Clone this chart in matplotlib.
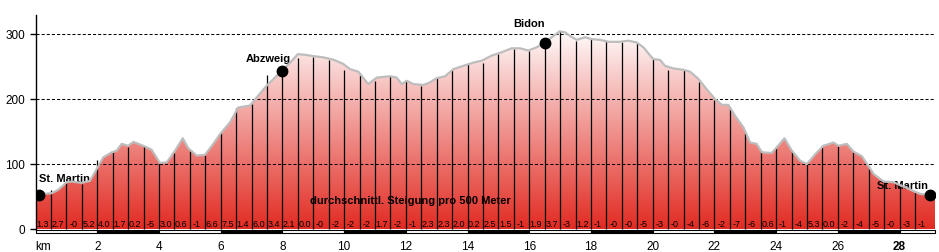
import matplotlib.pyplot as plt
import numpy as np
from matplotlib.colors import LinearSegmentedColormap
from matplotlib.patches import Rectangle

plt.rcParams['font.family'] = ['Liberation Sans', 'DejaVu Sans']
plt.rcParams['lines.scale_dashes'] = False

# elevation profile (km, m)
dist = [0.0, 0.25, 0.52, 0.74, 1.01, 1.17, 1.49, 1.76, 1.98, 2.19, 2.47, 2.63, 2.79,
        3.00, 3.17, 3.49, 3.76, 4.03, 4.25, 4.52, 4.77, 4.95, 5.22, 5.49, 5.76, 5.98,
        6.30, 6.57, 6.95, 7.17, 7.49, 7.82, 8.03, 8.25, 8.50, 8.73, 9.00, 9.33, 9.65,
        9.97, 10.19, 10.46, 10.78, 11.06, 11.49, 11.70, 11.87, 12.03, 12.24, 12.57,
        12.78, 13.00, 13.27, 13.54, 13.86, 14.19, 14.46, 14.78, 15.11, 15.43, 15.70,
        15.97, 16.24, 16.51, 16.73, 16.98, 17.16, 17.32, 17.54, 17.81, 18.03, 18.30,
        18.56, 18.94, 19.21, 19.48, 19.70, 19.92, 20.02, 20.24, 20.40, 20.67, 20.99,
        21.21, 21.48, 21.75, 22.02, 22.24, 22.45, 22.67, 22.94, 23.16, 23.37, 23.54,
        23.86, 24.02, 24.27, 24.51, 24.78, 25.00, 25.27, 25.53, 25.86, 26.02, 26.29,
        26.51, 26.78, 26.99, 27.16, 27.48, 27.80, 28.26, 28.51, 28.67, 29.01, 29.15]
elev = [52, 54, 55, 60.5, 72, 73, 71, 74, 92, 110, 118, 120.5, 131,
        128, 134, 128, 122, 101.5, 102.6, 120.5, 139.5, 124, 113, 114, 131, 146,
        164, 187, 190, 202.6, 220.5, 236, 246, 256, 269, 268, 266, 264, 260.5,
        254, 246, 242, 223, 233, 235, 233, 223, 228, 223, 221.5,
        225.6, 232, 235, 246, 251, 256, 259, 266.7, 272, 278, 278,
        274.6, 279.5, 287, 295, 304, 302.6, 297, 291, 295, 292, 291,
        288, 288, 289.7, 287, 279.5, 266.7, 261.5, 260, 251, 247, 245,
        242, 231, 215, 200, 191, 191, 174, 156.5, 133, 131, 118,
        117, 125.6, 139.5, 120.5, 105, 100, 115, 128, 133, 128, 131,
        119, 112, 97, 84.6, 73, 72, 62.6, 57, 54, 52, 52]

# 500 m markers: top of each vertical line
marker_tops = [60, 72.8, 70, 106, 119, 126.6, 128, 101, 117, 120.5, 114, 147,
               185.6, 191.8, 237, 243.6, 262.6, 264, 260, 245, 237, 228, 236, 228,
               220.5, 232, 245, 254, 256, 270, 277, 274.6, 284.6, 304, 289.7, 293,
               289.7, 288, 288, 261.5, 245, 244.6, 226.6, 199, 187, 149.7, 121.5,
               125.7, 120.5, 100, 126.6, 128, 119, 97.4, 72.8, 66.6, 57.4]

# average gradient per 500 m
grades = ['1.3', '2.7', '-0', '5.2', '4.0', '1.7', '0.2', '-5', '3.0', '0.6', '-1',
          '6.6', '7.5', '1.4', '6.0', '3.4', '2.1', '0.0', '-0', '-2', '-2', '-2',
          '1.7', '-2', '-1', '2.3', '2.3', '2.0', '0.2', '2.5', '1.5', '-1', '1.9',
          '3.7', '-3', '1.2', '-1', '-0', '-0', '-5', '-3', '-0', '-4', '-6', '-2',
          '-7', '-6', '0.6', '-1', '-4', '5.3', '0.0', '-2', '-4', '-5', '-0', '-3',
          '-1']

places = ['St. Martin', 'Abzweig', 'Bidon', 'St. Martin']
place_km = [0.11, 8.0, 16.5, 29.0]
place_elev = [52, 243.6, 285.7, 52]

total_km = 29.15

fig = plt.figure(figsize=(9.39, 2.53), dpi=100)
ax = fig.add_axes([35.6 / 939, 18.45 / 253, (935 - 35.6) / 939, 218.4 / 253])
ax.set_xlim(0, total_km)
ax.set_ylim(-7, 329)

# gradient fill under the profile
cmap = LinearSegmentedColormap.from_list('elev', ['#e12b22', '#ffffff'])
grad = np.linspace(0, 1, 256).reshape(-1, 1)
im = ax.imshow(grad, extent=[0, total_km, 0, 310], origin='lower', aspect='auto',
               cmap=cmap, zorder=1)
poly = ax.fill_between(dist, 0, elev, color='none', lw=0)
im.set_clip_path(poly.get_paths()[0], transform=ax.transData)

for lvl in [100, 200, 300]:
    ax.axhline(lvl, color='black', lw=0.75, linestyle=(0, (2.2, 1.5)), zorder=2)

marker_km = np.arange(1, len(marker_tops) + 1) * 0.5
ax.vlines(marker_km, 0, marker_tops, color='black', lw=0.9, zorder=3)
ax.plot(dist, elev, color='#bdbdbd', lw=1.6, zorder=4, solid_joinstyle='round')

ax.plot(place_km, place_elev, 'o', color='black', ms=7.5, zorder=5)
ax.text(place_km[0], 74, places[0], fontsize=8, fontweight='bold', ha='left')
ax.text(7.55, 258.5, places[1], fontsize=8, fontweight='bold', ha='center')
ax.text(15.98, 311.8, places[2], fontsize=8, fontweight='bold', ha='center')
ax.text(28.93, 63, places[3], fontsize=8, fontweight='bold', ha='right')
ax.text(8.9, 40, 'durchschnittl. Steigung pro 500 Meter', fontsize=8,
        fontweight='bold', ha='left', zorder=6)

for i, g in enumerate(grades):
    ax.text((i + 0.5) * 0.5 - 0.03, 5, g, fontsize=6.5, ha='center', zorder=6)

# km scale bar
for k in range(int(np.ceil(total_km / 2))):
    x0 = 2 * k
    w = min(2, total_km - x0)
    ax.add_patch(Rectangle((x0, -6.5), w, 5.5, facecolor='black' if k % 2 else 'white',
                           edgecolor='black', lw=0.8, zorder=6, clip_on=False))

for side in ['top', 'right', 'bottom']:
    ax.spines[side].set_visible(False)
ax.spines['left'].set_bounds(-1, 329)
ax.spines['left'].set_linewidth(1.0)

ax.set_yticks([0, 100, 200, 300])
ax.tick_params(axis='y', direction='out', length=4, width=1, pad=3.5, labelsize=8.5)
xt = list(range(2, 29, 2))
ax.set_xticks(xt)
ax.set_xticklabels([str(v) for v in xt])
ax.tick_params(axis='x', length=0, pad=4.5, labelsize=8.5)
ax.get_xticklabels()[-1].set_fontweight('bold')
ax.text(0.0, -0.028, 'km', transform=ax.transAxes, fontsize=8.5, ha='left', va='top')

plt.savefig('out.png', dpi=100)
